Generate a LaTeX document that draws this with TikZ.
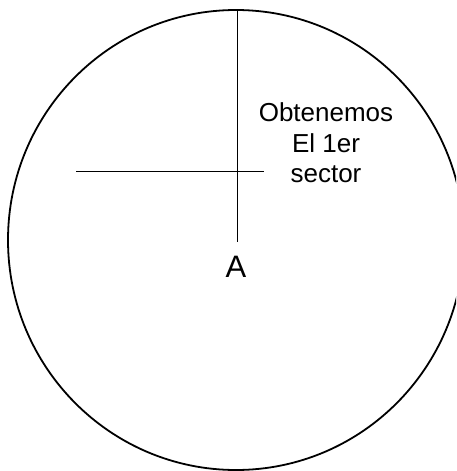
\documentclass[tikz,border=0pt]{standalone}
\usepackage{fontspec}
\setmainfont{Liberation Sans}
\begin{document}
\begin{tikzpicture}[x=1pt,y=-1pt,
  rim/.style={line width=1.8pt},
  thin/.style={line width=1pt},
  lbl/.style={inner sep=0pt, anchor=base, font=\fontsize{26}{30}\selectfont},
  biglbl/.style={inner sep=0pt, anchor=base, font=\fontsize{31}{36}\selectfont}]
\useasboundingbox (0,0) rectangle (456,471);
\clip (0,0) rectangle (456,471);
\fill[white] (0,0) rectangle (456,471);
\draw[rim] (236,240) ellipse [x radius=228, y radius=230];
\coordinate (vtop) at (237,10);
\coordinate (vbot) at (237,242);
\coordinate (hl) at (76,171);
\coordinate (hr) at (264,171);
\draw[thin] (vtop) -- (vbot);
\draw[thin] (hl) -- (hr);
\node[biglbl] (A) at (236,277) {A};
\node[lbl] (t1) at (326,121) {Obtenemos};
\node[lbl] (t2) at (326,152) {El 1er};
\node[lbl] (t3) at (326,182) {sector};
\end{tikzpicture}
\end{document}
